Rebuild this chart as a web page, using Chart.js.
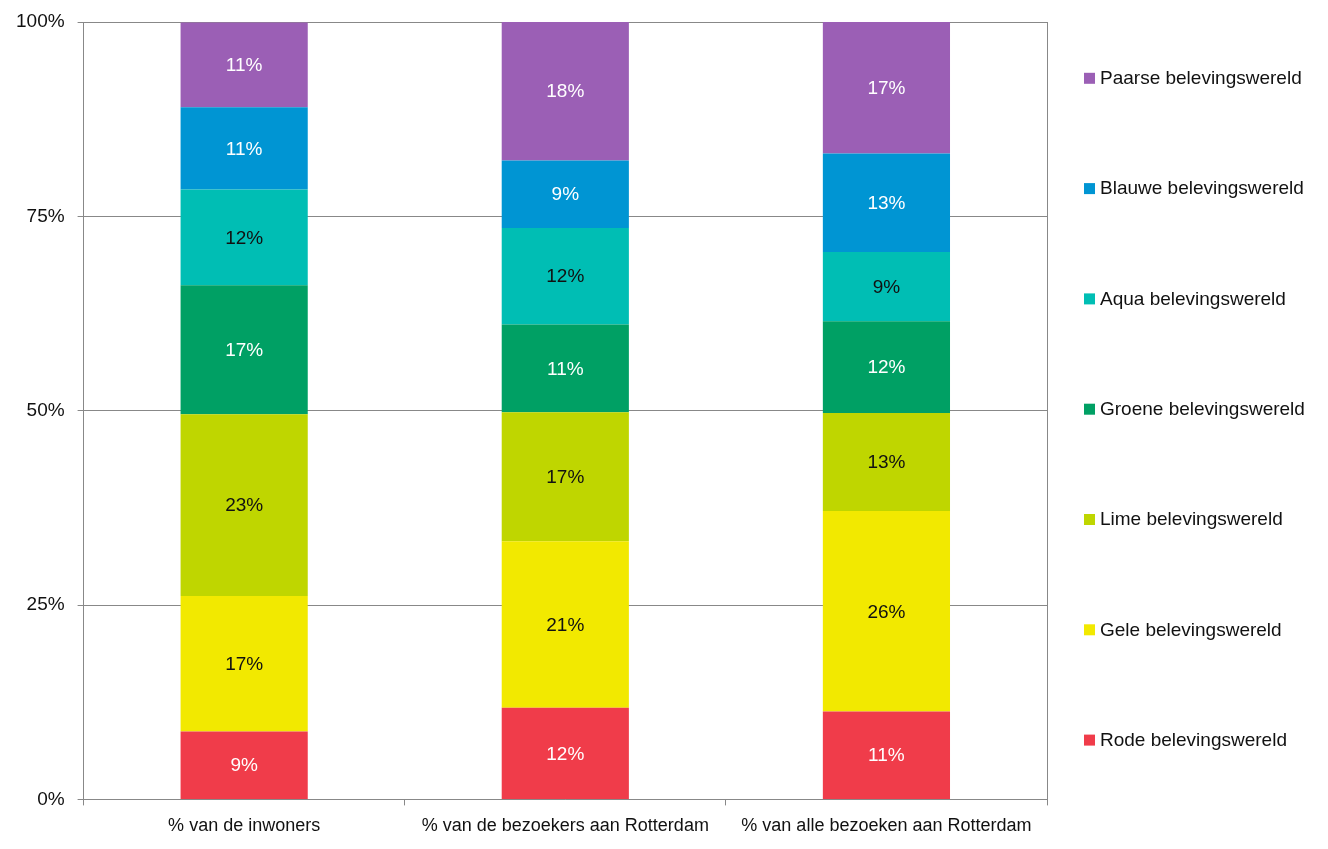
<!DOCTYPE html>
<html>
<head>
<meta charset="utf-8">
<script src="https://cdn.jsdelivr.net/npm/chart.js@4/dist/chart.umd.min.js"></script>
<style>
  html, body { margin: 0; padding: 0; background: #fff; }
  #wrap { width: 1328px; height: 849px; }
</style>
</head>
<body>
<div id="wrap"><canvas id="chart" width="1328" height="849"></canvas></div>
<script>
// categories and series (percentages per bar)
var categories = ['% van de inwoners', '% van de bezoekers aan Rotterdam', '% van alle bezoeken aan Rotterdam'];
var rode   = [8.75, 11.8, 11.3];
var gele   = [17.4, 21.4, 25.8];
var lime   = [23.4, 16.6, 12.6];
var groene = [16.6, 11.3, 11.8];
var aqua   = [12.3, 12.4, 8.9];
var blauwe = [10.6, 8.7, 12.7];
var paarse = [10.9, 17.8, 16.9];
var yTicks = [0, 25, 50, 75, 100];

var FONT = '"Liberation Sans", Arial, sans-serif';

var series = [
    {label: 'Rode belevingswereld',   data: rode,   color: '#F03C4A', text: '#ffffff'},
    {label: 'Gele belevingswereld',   data: gele,   color: '#F2E900', text: '#111111'},
    {label: 'Lime belevingswereld',   data: lime,   color: '#BFD600', text: '#111111'},
    {label: 'Groene belevingswereld', data: groene, color: '#00A064', text: '#ffffff'},
    {label: 'Aqua belevingswereld',   data: aqua,   color: '#00BEB4', text: '#111111'},
    {label: 'Blauwe belevingswereld', data: blauwe, color: '#0095D3', text: '#ffffff'},
    {label: 'Paarse belevingswereld', data: paarse, color: '#9B5FB5', text: '#ffffff'}
];

// labels inside each segment
var segmentLabels = {
    id: 'segmentLabels',
    afterDatasetsDraw: function(chart){
        var ctx = chart.ctx;
        ctx.save();
        ctx.font = '19px ' + FONT;
        ctx.textAlign = 'center';
        ctx.textBaseline = 'middle';
        chart.data.datasets.forEach(function(ds, i){
            var meta = chart.getDatasetMeta(i);
            meta.data.forEach(function(bar, j){
                var mid = (bar.y + bar.base) / 2;
                ctx.fillStyle = series[i].text;
                ctx.fillText(Math.round(ds.data[j]) + '%', bar.x, mid + 1);
            });
        });
        ctx.restore();
    }
};

// legend on the right, spread over the plot height
var sideLegend = {
    id: 'sideLegend',
    afterDraw: function(chart){
        var ctx = chart.ctx, area = chart.chartArea;
        var step = 110.3;
        var mid = (area.top + area.bottom) / 2 - 2;
        var x = area.right + 37;
        ctx.save();
        ctx.font = '19px ' + FONT;
        ctx.textBaseline = 'middle';
        ctx.textAlign = 'left';
        for(var k = 0; k < series.length; k++){
            var s = series[series.length - 1 - k];
            var y = mid + (k - 3) * step;
            ctx.fillStyle = s.color;
            ctx.fillRect(x, y - 5, 11, 11);
            ctx.fillStyle = '#111111';
            ctx.fillText(s.label, x + 16, y + 1);
        }
        ctx.restore();
    }
};

new Chart(document.getElementById('chart'), {
    type: 'bar',
    data: {
        labels: categories,
        datasets: series.map(function(s){
            return {label: s.label, data: s.data, backgroundColor: s.color, borderWidth: 0,
                    barPercentage: 0.396, categoryPercentage: 1};
        })
    },
    options: {
        responsive: false,
        animation: false,
        layout: {padding: {left: 3, right: 281, top: 22, bottom: 2}},
        plugins: {legend: {display: false}, tooltip: {enabled: false}},
        scales: {
            x: {
                stacked: true,
                grid: {offset: true, drawOnChartArea: false, drawTicks: true, tickLength: 6, color: '#888888'},
                border: {color: '#888888'},
                ticks: {color: '#111111', font: {size: 18, family: FONT}, padding: 10, maxRotation: 0, autoSkip: false}
            },
            y: {
                stacked: true,
                min: 0, max: 100,
                afterBuildTicks: function(axis){ axis.ticks = yTicks.map(function(v){ return {value: v}; }); },
                grid: {color: '#888888', tickLength: 6},
                border: {color: '#888888'},
                ticks: {color: '#111111', font: {size: 19, family: FONT, lineHeight: 0.6}, padding: 13,
                        callback: function(v){ return v + '%'; }}
            },
            y2: {
                position: 'right',
                min: 0, max: 100,
                grid: {drawOnChartArea: false, drawTicks: false},
                border: {color: '#888888'},
                ticks: {display: false}
            }
        }
    },
    plugins: [segmentLabels, sideLegend]
});
</script>
</body>
</html>
